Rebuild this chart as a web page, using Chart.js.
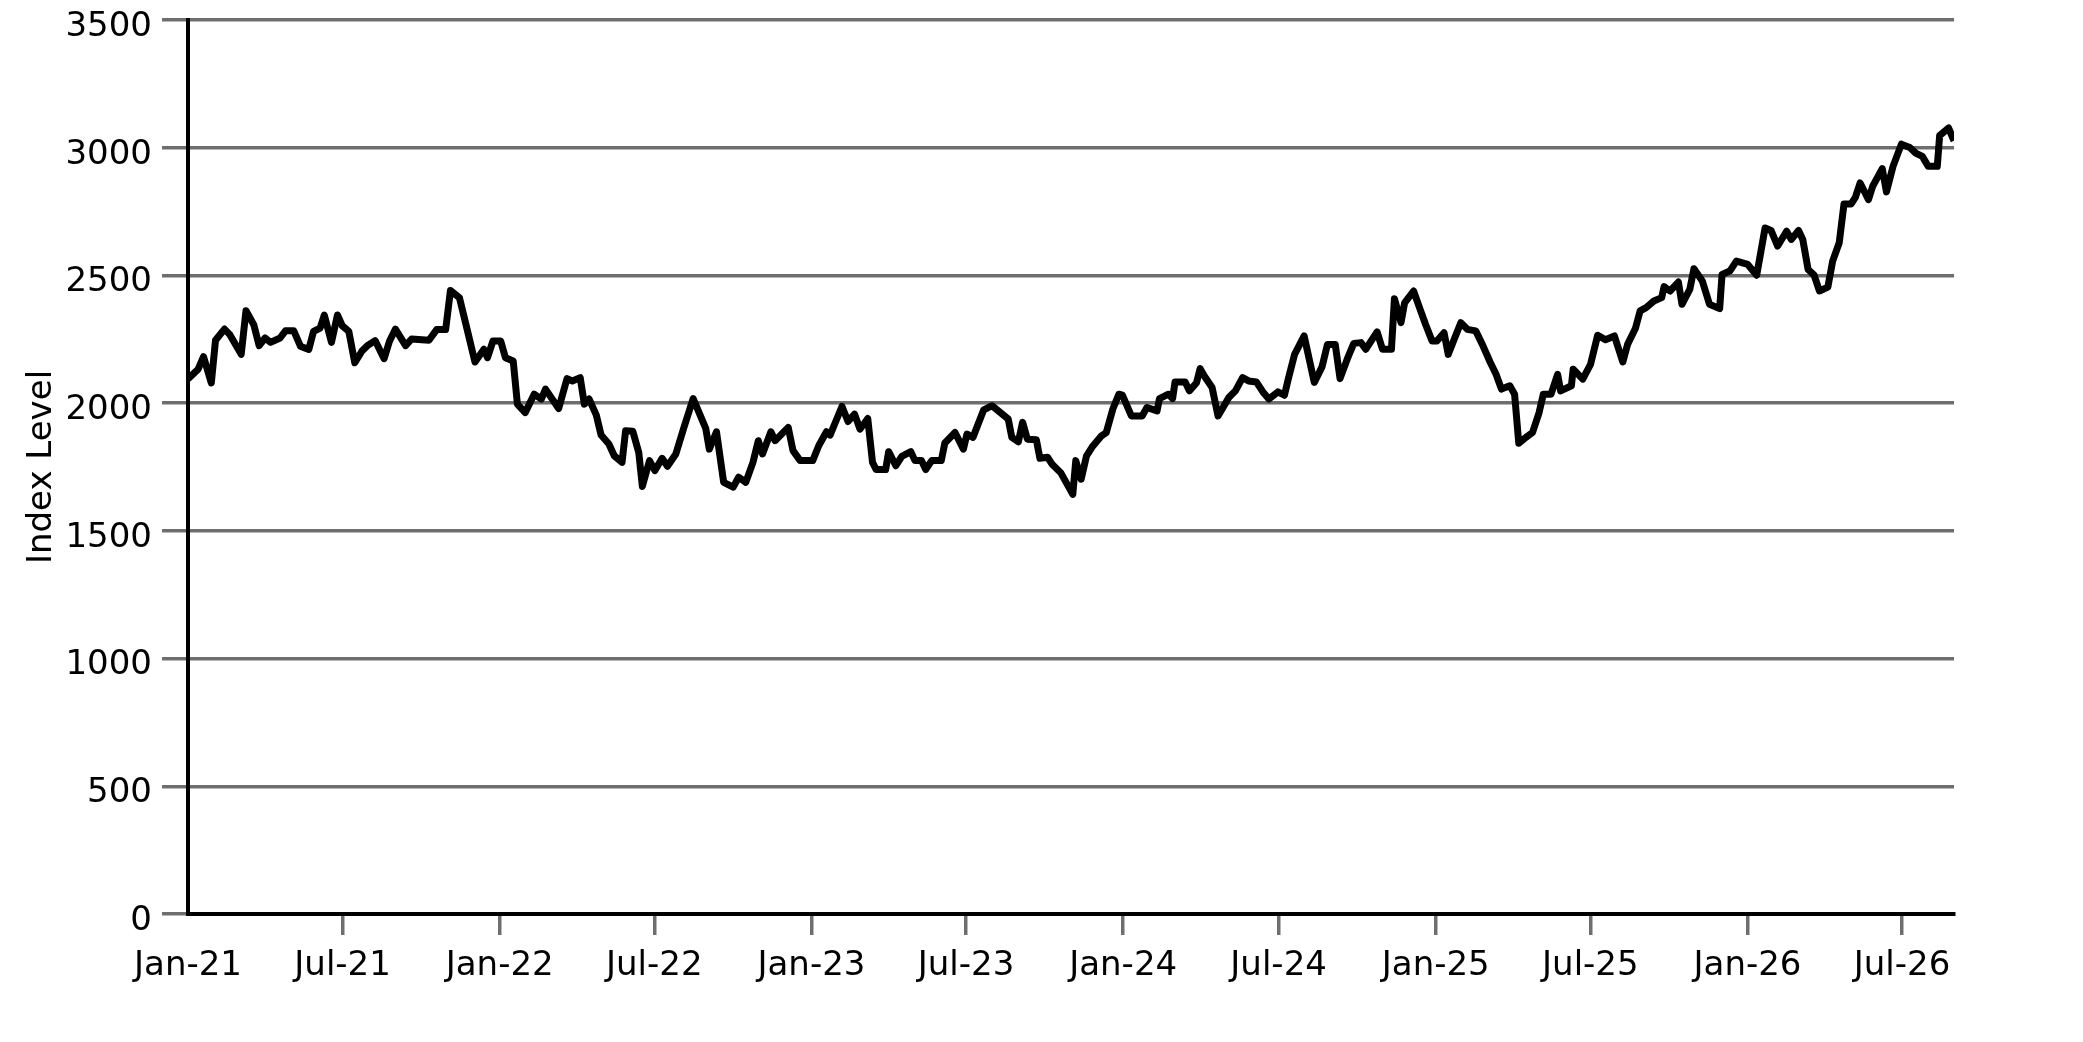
<!DOCTYPE html>
<html>
<head>
<meta charset="utf-8">
<script src="https://cdn.jsdelivr.net/npm/chart.js@4.4.1/dist/chart.umd.min.js"></script>
<style>
  html, body { margin: 0; padding: 0; background: #ffffff; }
  #wrap { width: 2083px; height: 1042px; }
</style>
</head>
<body>
<div id="wrap"><canvas id="c" width="2083" height="1042"></canvas></div>
<script>
// ---- data ----
const startDate = '2021-01-01';
// position of each vertex in weeks after startDate
const weeks = [
  0,1.7,2.6,3.9,4.6,6.1,7,8.9,9.7,11.0,11.9,12.9,13.8,15.4,16.3,17.7,18.8,20.2,21.0,22.1,
  22.8,24.0,25.0,25.8,26.9,27.9,29.1,30.0,31.3,32.8,33.7,34.7,36.4,37.4,
  40.3,41.6,43.1,43.9,45.4,46.7,48.0,49.5,50.1,51.0,52.3,53.1,54.4,55.1,56.4,57.9,
  59.1,59.8,62.0,63.4,64.3,65.6,66.3,67.1,68.3,69.1,70.4,71.3,72.6,73.2,74.4,
  75.4,76.0,77.2,78.1,79.3,80.2,81.6,82.9,84.5,86.6,87.2,88.4,89.6,91.2,92.1,93.3,
  94.5,95.4,96.1,97.5,98.2,100.4,101.2,102.4,104.5,105.5,106.8,107.4,108.4,109.4,110.4,
  111.5,112.4,113.7,114.5,115.1,116.7,117.2,118.4,119.4,120.9,121.6,122.7,123.4,124.4,
  126.0,126.6,128.3,129.7,130.3,131.3,133.1,134.5,137.2,137.8,138.9,139.6,140.4,141.9,
  142.5,143.8,144.5,146.0,148.0,148.5,149.4,
  150.3,151.2,152.8,153.6,154.7,155.7,156.3,157.8,159.6,160.4,162.1,162.5,164.0,164.7,
  165.1,166.8,167.5,168.7,169.3,170.0,171.3,172.3,174.1,175.2,176.4,177.4,178.7,179.8,
  180.8,182.3,183.4,184.1,185.1,
  186.7,188.4,189.7,190.6,191.9,192.7,193.9,195.0,196.2,197.0,198.9,199.8,201.3,201.8,
  202.9,203.5,205.0,206.1,207.0,208.1,208.9,210.1,210.8,211.8,212.9,214.0,215.4,216.5,
  217.8,218.8,219.7,221.1,221.9,222.6,
  223.8,224.9,226.0,226.7,228.0,229.1,229.6,231.4,231.7,233.3,234.6,235.8,237.1,238.6,
  240.0,240.8,242.1,242.9,243.9,245.2,246.5,246.9,247.9,249.3,249.9,251.2,251.9,253.3,
  254.5,256.2,256.6,257.9,259.0,
  260.9,262.4,263.8,264.8,265.9,267.4,268.2,269.4,270.1,271.0,272.0,272.9,274.3,275.1,
  276.2,277.0,278.2,278.9,279.7,281.1,281.8,283.4,284.1,285.2,286.6,288.0,289.0,290.1,
  291.1,292.6,293.0,294.5,295.4
];
// index level at each vertex
const values = [
  2095,2133,2182,2079,2246,2290,2268,2191,2362,2307,2225,2255,2238,2255,2283,2283,2223,2210,2281,2294,
  2345,2238,2345,2303,2281,2158,2204,2225,2245,2174,2242,2290,2225,2251,
  2246,2288,2288,2441,2413,2288,2161,2211,2178,2243,2243,2178,2165,1996,1963,2035,
  2016,2055,1979,2096,2087,2100,1996,2016,1953,1875,1840,1794,1768,1892,1890,
  1807,1674,1775,1736,1784,1753,1801,1901,2018,1901,1820,1888,1690,1671,1710,1690,
  1768,1853,1801,1888,1853,1905,1814,1775,1775,1833,1888,1875,1931,1987,1928,
  1957,1898,1940,1768,1740,1740,1810,1755,1792,1810,1775,1775,1740,1775,
  1775,1844,1885,1820,1879,1866,1974,1990,1938,1866,1849,1925,1859,1857,
  1784,1788,1762,1727,1643,1775,1702,
  1794,1827,1872,1885,1977,2035,2031,1950,1950,1983,1970,2018,2035,2018,
  2083,2083,2048,2080,2135,2106,2061,1950,2022,2048,2100,2087,2083,2044,
  2016,2044,2031,2100,2191,
  2263,2081,2143,2230,2230,2096,2172,2234,2237,2211,2279,2211,2211,2409,
  2315,2393,2439,2367,2309,2243,2243,2276,2191,2250,2315,2289,2283,2230,
  2161,2113,2055,2068,2035,1843,
  1866,1885,1963,2035,2035,2113,2048,2068,2133,2094,2152,2266,2248,2263,
  2161,2230,2292,2361,2374,2400,2413,2456,2439,2474,2387,2445,2526,2478,
  2387,2370,2504,2517,2556,
  2543,2501,2686,2676,2615,2673,2641,2676,2641,2523,2501,2439,2454,2556,
  2628,2780,2780,2806,2862,2797,2849,2918,2827,2927,3014,3001,2979,2966,
  2927,2927,3048,3077,3027
];
const tickDates = ['2021-01-01','2021-07-01','2022-01-01','2022-07-01','2023-01-01','2023-07-01',
                   '2024-01-01','2024-07-01','2025-01-01','2025-07-01','2026-01-01','2026-07-01'];
const tickLabels = ['Jan-21','Jul-21','Jan-22','Jul-22','Jan-23','Jul-23',
                    'Jan-24','Jul-24','Jan-25','Jul-25','Jan-26','Jul-26'];
const yMin = 0, yMax = 3500, yStep = 500;
const yTitle = 'Index Level';

// ---- build ----
const DAY = 86400000;
const t0 = Date.parse(startDate + 'T00:00:00Z');
const dayOf = s => (Date.parse(s + 'T00:00:00Z') - t0) / DAY;
const tickDays = tickDates.map(dayOf);
const points = weeks.map((w, i) => ({ x: w * 7, y: values[i] }));
const xMax = points[points.length - 1].x;

const FONT = { family: 'DejaVu Sans', size: 34 };
const GRID = '#6e6e6e';

new Chart(document.getElementById('c'), {
  type: 'line',
  data: {
    datasets: [{
      data: points,
      borderColor: '#000000',
      borderWidth: 7,
      pointRadius: 0,
      tension: 0,
      fill: false,
      borderJoinStyle: 'round',
      borderCapStyle: 'butt'
    }]
  },
  options: {
    responsive: false,
    animation: false,
    devicePixelRatio: 1,
    events: [],
    layout: { padding: { top: 20, right: 129, bottom: 0, left: 0 } },
    plugins: { legend: { display: false }, tooltip: { enabled: false }, title: { display: false } },
    scales: {
      x: {
        type: 'linear',
        min: 0,
        max: xMax,
        afterBuildTicks: s => { s.ticks = tickDays.map(v => ({ value: v })); },
        afterFit: s => { s.height = 128; },
        ticks: {
          autoSkip: false,
          maxRotation: 0,
          minRotation: 0,
          padding: 11,
          color: '#000000',
          font: FONT,
          callback: (v, i) => tickLabels[i]
        },
        grid: {
          drawOnChartArea: false,
          drawTicks: true,
          tickLength: 21,
          tickWidth: 3.5,
          lineWidth: 3.5,
          tickColor: ctx => (ctx.index === 0 ? 'rgba(0,0,0,0)' : GRID),
          color: GRID
        },
        border: { display: true, color: '#000000', width: 4 }
      },
      y: {
        type: 'linear',
        min: yMin,
        max: yMax,
        afterFit: s => { s.width = 188; s.paddingTop = 0; s.paddingBottom = 0; },
        ticks: {
          stepSize: yStep,
          padding: 10,
          labelOffset: 7,
          color: '#000000',
          font: FONT,
          callback: v => String(v)
        },
        grid: {
          color: GRID,
          lineWidth: 3.5,
          drawTicks: true,
          tickLength: 26
        },
        border: { display: true, color: '#000000', width: 4 },
        title: {
          display: true,
          text: yTitle,
          color: '#000000',
          font: FONT,
          padding: { top: 22, bottom: 0 }
        }
      }
    }
  }
});
</script>
</body>
</html>
